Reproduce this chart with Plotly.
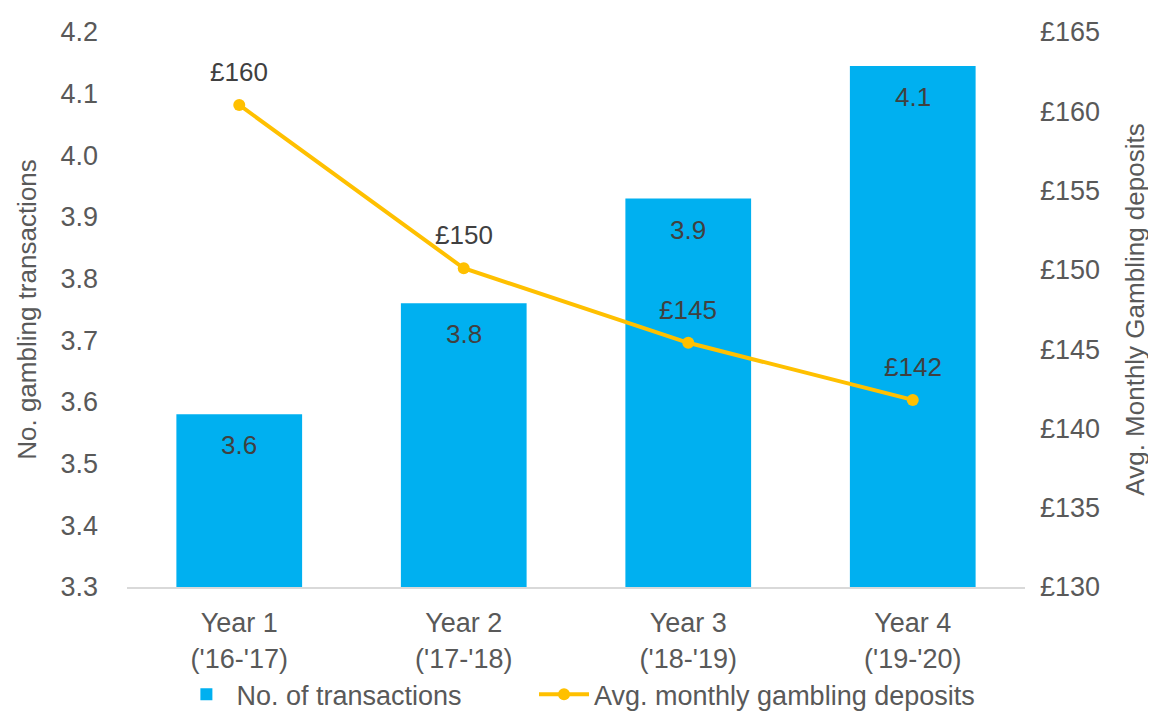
import plotly.graph_objects as go

# -----------------------------
# DATA
# -----------------------------
years = ["Year 1<br>('16-'17)", "Year 2<br>('17-'18)",
         "Year 3<br>('18-'19)", "Year 4<br>('19-'20)"]
transactions = [3.58, 3.76, 3.93, 4.145]
deposits = [160.4, 150.1, 145.4, 141.8]
series_names = ["No. of transactions", "Avg. monthly gambling deposits"]

FONT = "Liberation Sans, Arial, sans-serif"
GREY = "#595959"
DARK = "#404040"
SIZE = 27

fig = go.Figure()

fig.add_trace(go.Bar(
    x=years,
    y=transactions,
    name=series_names[0] + "\u00a0" * 9,
    marker=dict(color="#00B0F0", line=dict(width=0)),
))

fig.add_trace(go.Scatter(
    x=years,
    y=deposits,
    name=series_names[1],
    yaxis="y2",
    mode="lines+markers",
    line=dict(color="#FFC000", width=4),
    marker=dict(color="#FFC000", size=12),
    cliponaxis=False,
))

# data labels
for cat, v in zip(years, transactions):
    fig.add_annotation(x=cat, y=v, yref="y", text=f"{v:.1f}", showarrow=False,
                       yshift=-31, yanchor="middle",
                       font=dict(color=DARK, size=SIZE - 1, family=FONT))

for cat, v in zip(years, deposits):
    fig.add_annotation(x=cat, y=v, yref="y2", text=f"£{v:.0f}", showarrow=False,
                       yshift=33, yanchor="middle",
                       font=dict(color=DARK, size=SIZE - 1, family=FONT))

# page body adds an 8px offset, so margins are shifted to compensate
fig.update_layout(
    width=1156,
    height=723,
    margin=dict(l=119, r=139, t=24, b=144),
    paper_bgcolor="white",
    plot_bgcolor="white",
    font=dict(family=FONT, size=SIZE, color=GREY),
    bargap=0.44,
    showlegend=True,
    legend=dict(
        orientation="h",
        x=0.055, xanchor="left",
        y=-0.238, yanchor="bottom",
        itemwidth=50,
        bgcolor="rgba(0,0,0,0)",
        font=dict(size=SIZE, color=GREY),
    ),
    xaxis=dict(
        showline=True,
        linecolor="#D9D9D9",
        linewidth=2,
        ticks="",
        showgrid=False,
        automargin=False,
        ticklabelstandoff=11,
        tickfont=dict(size=SIZE, color=GREY),
    ),
    yaxis=dict(
        range=[3.3, 4.2],
        dtick=0.1,
        tickformat=".1f",
        showgrid=False,
        zeroline=False,
        ticks="",
        automargin=False,
        ticklabelstandoff=28,
        title=dict(text="No. gambling transactions", font=dict(size=SIZE - 1, color=GREY), standoff=16),
        tickfont=dict(size=SIZE, color=GREY),
    ),
    yaxis2=dict(
        range=[130, 165],
        dtick=5,
        tickprefix="£",
        overlaying="y",
        side="right",
        showgrid=False,
        zeroline=False,
        ticks="",
        automargin=False,
        ticklabelstandoff=14,
        title=dict(text="Avg. Monthly Gambling deposits", font=dict(size=SIZE - 1, color=GREY), standoff=26),
        tickfont=dict(size=SIZE, color=GREY),
    ),
)

fig.write_html("out.html")
